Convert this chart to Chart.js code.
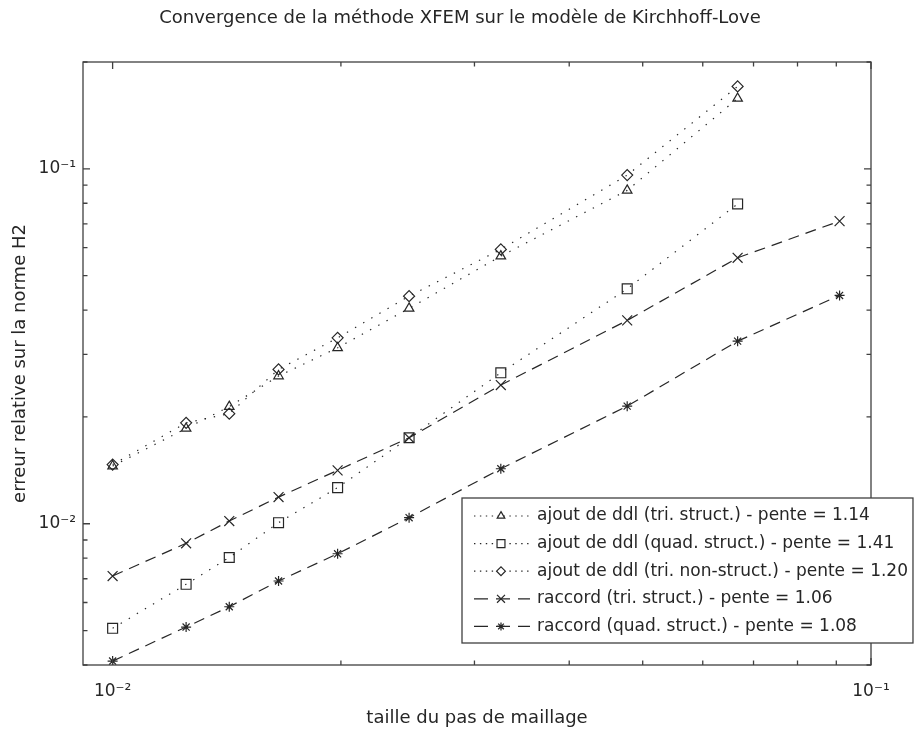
<!DOCTYPE html>
<html lang="fr">
<head>
<meta charset="utf-8">
<title>Convergence XFEM - Kirchhoff-Love</title>
<script src="https://cdn.jsdelivr.net/npm/chart.js@4.4.1/dist/chart.umd.min.js"></script>
<style>
  html, body { margin: 0; padding: 0; background: #fff; }
</style>
</head>
<body>
<canvas id="graphe" width="920" height="731"></canvas>
<script>
// --- DONNÉES ---
const pasMaillage = [0.01, 0.0125, 0.01425, 0.01655, 0.0198, 0.0246, 0.0325, 0.0477, 0.0667, 0.0909];

const ajoutTriStruct    = [0.01454, 0.01856, 0.02138, 0.02607, 0.03131, 0.04044, 0.05677, 0.08695, 0.1579];
const ajoutQuadStruct   = [0.005075, 0.006752, 0.008033, 0.01007, 0.01264, 0.01747, 0.02663, 0.04592, 0.07964];
const ajoutTriNonStruct = [0.01468, 0.01925, 0.02043, 0.02722, 0.0334, 0.04379, 0.05929, 0.09601, 0.1707];
const raccordTriStruct  = [0.007124, 0.008808, 0.01018, 0.01189, 0.01414, 0.01747, 0.02459, 0.03741, 0.05614, 0.07124];
const raccordQuadStruct = [0.004103, 0.005117, 0.005837, 0.006898, 0.008231, 0.0104, 0.01429, 0.02145, 0.0327, 0.04399];

const legendes = [
    "ajout de ddl (tri. struct.) - pente = 1.14",
    "ajout de ddl (quad. struct.) - pente = 1.41",
    "ajout de ddl (tri. non-struct.) - pente = 1.20",
    "raccord (tri. struct.) - pente = 1.06",
    "raccord (quad. struct.) - pente = 1.08"
];

// graduations (mineures + majeures) et étiquettes des décades
const xGraduations = [0.01, 0.02, 0.03, 0.04, 0.05, 0.06, 0.07, 0.08, 0.09, 0.1];
const yGraduations = [0.004, 0.005, 0.006, 0.007, 0.008, 0.009, 0.01, 0.02, 0.03, 0.04, 0.05, 0.06, 0.07, 0.08, 0.09, 0.1, 0.2];
const decades = [0.01, 0.1];
const etiquettesDecades = ["10\u207B\u00B2", "10\u207B\u00B9"];

// --- STYLE ---
const NOIR = '#262626';
const POLICE = { family: 'DejaVu Sans', size: 17, weight: 'normal' };
const POLICE_TITRE = { family: 'DejaVu Sans', size: 18, weight: 'normal' };
const POINTILLE = [1.4, 8];
const TIRETS = [11, 7];

function serie(label, valeurs, style, rayon, dash) {
    return {
        label: label,
        data: valeurs.map((v, i) => ({ x: pasMaillage[i], y: v })),
        borderColor: NOIR,
        borderWidth: 1.2,
        borderDash: dash,
        pointStyle: style,
        pointRadius: rayon,
        pointHoverRadius: rayon,
        pointBorderColor: NOIR,
        pointBorderWidth: 1.2,
        pointBackgroundColor: 'rgba(0,0,0,0)',
        fill: false,
        tension: 0
    };
}

const etiquette = (v) => {
    const i = decades.findIndex(d => Math.abs(d - v) < 1e-9);
    return i >= 0 ? etiquettesDecades[i] : '';
};

// Cadre + graduations vers l'intérieur, comme sous MATLAB
const cadreMatlab = {
    id: 'cadreMatlab',
    afterDatasetsDraw(chart) {
        const { ctx, chartArea: a, scales } = chart;
        ctx.save();
        ctx.strokeStyle = '#404040';
        ctx.lineWidth = 1.3;
        ctx.beginPath();
        scales.x.ticks.forEach(t => {
            const px = scales.x.getPixelForValue(t.value);
            const l = decades.includes(t.value) ? 7 : 4.5;
            ctx.moveTo(px, a.bottom); ctx.lineTo(px, a.bottom - l);
            ctx.moveTo(px, a.top); ctx.lineTo(px, a.top + l);
        });
        scales.y.ticks.forEach(t => {
            const py = scales.y.getPixelForValue(t.value);
            const l = decades.includes(t.value) ? 7 : 4.5;
            ctx.moveTo(a.left, py); ctx.lineTo(a.left + l, py);
            ctx.moveTo(a.right, py); ctx.lineTo(a.right - l, py);
        });
        ctx.stroke();
        ctx.strokeRect(a.left, a.top, a.right - a.left, a.bottom - a.top);
        ctx.restore();
    }
};

// Légende encadrée, elle déborde à droite du cadre comme dans l'original
const legendeMatlab = {
    id: 'legendeMatlab',
    afterDraw(chart) {
        const { ctx, chartArea: a } = chart;
        const sets = chart.data.datasets;
        ctx.save();
        ctx.font = POLICE.size + 'px ' + POLICE.family;
        const largeurTexte = Math.max(...sets.map(d => ctx.measureText(d.label).width));
        const gauche = a.left + 379;
        const largeur = 75 + largeurTexte + 5;
        const haut = a.bottom - 167;
        const hauteur = 145;
        ctx.fillStyle = '#fff';
        ctx.fillRect(gauche, haut, largeur, hauteur);
        ctx.strokeStyle = '#404040';
        ctx.lineWidth = 1.3;
        ctx.strokeRect(gauche, haut, largeur, hauteur);

        sets.forEach((d, i) => {
            const y = haut + 18 + i * 27.6;
            ctx.strokeStyle = NOIR;
            ctx.lineWidth = 1.2;
            ctx.setLineDash(d.borderDash === POINTILLE ? [1.4, 4.5] : [14, 8]);
            ctx.beginPath();
            ctx.moveTo(gauche + 12, y);
            ctx.lineTo(gauche + 68, y);
            ctx.stroke();
            ctx.setLineDash([]);
            ctx.fillStyle = '#fff';
            if (Chart.helpers && Chart.helpers.drawPoint) {
                Chart.helpers.drawPoint(ctx, {
                    pointStyle: d.pointStyle, radius: d.pointRadius * 0.8,
                    rotation: 0, borderWidth: 1.2
                }, gauche + 39, y);
            }
            ctx.fillStyle = NOIR;
            ctx.textBaseline = 'middle';
            ctx.textAlign = 'left';
            ctx.fillText(d.label, gauche + 75, y);
        });
        ctx.restore();
    }
};

new Chart(document.getElementById('graphe'), {
    type: 'line',
    data: {
        datasets: [
            serie(legendes[0], ajoutTriStruct, 'triangle', 5.5, POINTILLE),
            serie(legendes[1], ajoutQuadStruct, 'rect', 7, POINTILLE),
            serie(legendes[2], ajoutTriNonStruct, 'rectRot', 5.5, POINTILLE),
            serie(legendes[3], raccordTriStruct, 'crossRot', 7, TIRETS),
            serie(legendes[4], raccordQuadStruct, 'star', 5, TIRETS)
        ]
    },
    options: {
        responsive: false,
        animation: false,
        layout: { padding: 0 },
        plugins: {
            legend: { display: false },
            tooltip: { enabled: false },
            title: {
                display: true,
                text: 'Convergence de la méthode XFEM sur le modèle de Kirchhoff-Love',
                color: NOIR,
                font: POLICE_TITRE,
                padding: { top: 8, bottom: 32.4 }
            }
        },
        scales: {
            x: {
                type: 'logarithmic',
                min: 0.00914,
                max: 0.1,
                afterBuildTicks: (s) => { s.ticks = xGraduations.map(v => ({ value: v })); },
                afterFit: (s) => { s.height = 66; },
                grid: { display: false, drawTicks: false },
                border: { display: false },
                ticks: { autoSkip: false, maxRotation: 0, padding: 16, color: NOIR, font: POLICE, callback: etiquette },
                title: { display: true, text: 'taille du pas de maillage', color: NOIR, font: POLICE_TITRE, padding: { top: 0, bottom: 2 } }
            },
            y: {
                type: 'logarithmic',
                min: 0.004,
                max: 0.2,
                afterBuildTicks: (s) => { s.ticks = yGraduations.map(v => ({ value: v })); },
                afterFit: (s) => { s.width = 83; },
                grid: { display: false, drawTicks: false },
                border: { display: false },
                ticks: { autoSkip: false, padding: 7, color: NOIR, font: POLICE, callback: etiquette },
                title: { display: true, text: 'erreur relative sur la norme H2', color: NOIR, font: POLICE_TITRE, padding: { top: 10, bottom: 0 } }
            },
            // marge droite vide (le titre reste centré sur la figure)
            marge: {
                type: 'linear',
                position: 'right',
                afterFit: (s) => { s.width = 49; },
                grid: { display: false, drawTicks: false },
                border: { display: false },
                ticks: { display: false }
            }
        }
    },
    plugins: [cadreMatlab, legendeMatlab]
});
</script>
</body>
</html>
